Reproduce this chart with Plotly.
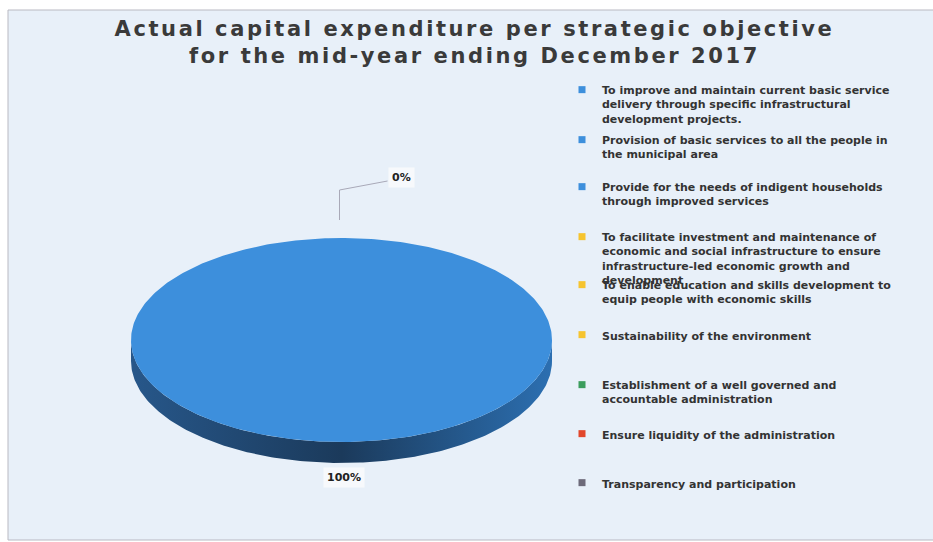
import numpy as np
import plotly.graph_objects as go

# Strategic objectives (legend text, wrapped as printed)
objectives = [
    "To improve and maintain current basic service<br>delivery through specific infrastructural<br>development projects.",
    "Provision of basic services to all the people in<br>the municipal area",
    "Provide for the needs of indigent households<br>through improved services",
    "To facilitate investment and maintenance of<br>economic and social infrastructure to ensure<br>infrastructure-led economic growth and<br>development",
    "To enable education and skills development to<br>equip people with economic skills",
    "Sustainability of the environment",
    "Establishment of a well governed and<br>accountable administration",
    "Ensure liquidity of the administration",
    "Transparency and participation",
]
# Share of actual capital expenditure (%)
shares = [100, 0, 0, 0, 0, 0, 0, 0, 0]
colors = ["#3d8fdc", "#3d8fdc", "#3d8fdc",
          "#f6c42f", "#f6c42f", "#f6c42f",
          "#3b9d5d", "#e2472b", "#6d6a7a"]
title_lines = ["Actual capital expenditure per strategic objective",
               "for the mid-year ending December 2017"]

W, H = 933, 542
CX, CY, RX, RY, DEPTH = 341.5, 340.0, 210.5, 102.0, 21.0


def ell(theta_deg, dy=0.0):
    t = np.radians(theta_deg)
    return CX + RX * np.sin(t), CY - RY * np.cos(t) + dy


fig = go.Figure()

total = float(sum(shares))
start = 0.0
spans = []
for s in shares:
    sweep = 360.0 * s / total
    spans.append((start, start + sweep))
    start += sweep

# side walls (front half of the disc) first, then the top faces
for (a0, a1), s, c in zip(spans, shares, colors):
    lo, hi = max(a0, 90.0), min(a1, 270.0)
    if s <= 0 or hi <= lo:
        continue
    th = np.linspace(lo, hi, 200)
    xt, yt = ell(th)
    xb, yb = ell(th[::-1], DEPTH)
    fig.add_trace(go.Scatter(
        x=np.concatenate([xt, xb]), y=np.concatenate([yt, yb]),
        mode="lines", line=dict(width=0), fill="toself",
        fillgradient=dict(type="horizontal",
                          colorscale=[[0, "#27578a"], [0.5, "#1b3a5b"], [1, "#2c6fb1"]]),
        showlegend=False, hoverinfo="skip"))

for (a0, a1), s, c in zip(spans, shares, colors):
    if s <= 0:
        continue
    th = np.linspace(a0, a1, 400)
    xt, yt = ell(th)
    fig.add_trace(go.Scatter(
        x=np.concatenate([[CX], xt, [CX]]), y=np.concatenate([[CY], yt, [CY]]),
        mode="lines", line=dict(width=0), fill="toself", fillcolor=c,
        showlegend=False, hoverinfo="skip"))

# percentage labels
label_font = dict(family="DejaVu Sans", size=11, color="#222222", weight="bold")
zero_done = False
for (a0, a1), s in zip(spans, shares):
    pct = 100.0 * s / total
    mid = (a0 + a1) / 2.0
    if s > 0:
        x, y = ell(mid, DEPTH)
        fig.add_annotation(x=x + 2, y=y + 14, text=f"{pct:.0f}%", showarrow=False,
                           font=label_font, bgcolor="#f7f9fc", borderpad=3)
    elif not zero_done:
        zero_done = True
        ax, ay = ell(a0)
        lx, ly = ax + 60, ay - 61
        fig.add_trace(go.Scatter(
            x=[ax - 2, ax - 2, lx - 14], y=[ay - 18, ay - 48, ly + 4],
            mode="lines", line=dict(color="#a9a9b8", width=1),
            showlegend=False, hoverinfo="skip"))
        fig.add_annotation(x=lx, y=ly, text=f"{pct:.0f}%", showarrow=False,
                           font=label_font, bgcolor="#f7f9fc", borderpad=3)

# one legend block per objective so each entry sits at its own row
legend_rows = [90, 140, 187, 237, 285, 335, 385, 434, 483]
layout_legends = {}
for i, (name, c, row) in enumerate(zip(objectives, colors, legend_rows)):
    key = "legend" if i == 0 else f"legend{i + 1}"
    fig.add_trace(go.Scatter(
        x=[None], y=[None], mode="markers", name=name,
        marker=dict(symbol="square", size=7, color=c),
        legend=key, hoverinfo="skip"))
    layout_legends[key] = dict(
        x=562 / W, y=1 - (row - 14) / H, xanchor="left", yanchor="top",
        bgcolor="rgba(0,0,0,0)", borderwidth=0, valign="top",
        itemwidth=30, itemclick=False, itemdoubleclick=False,
        font=dict(family="DejaVu Sans", size=11, color="#333333", weight="bold"))

title_html = "<br>".join(f'<span style="letter-spacing:2.6px">{t}</span>' for t in title_lines)

fig.update_layout(
    width=W, height=H,
    margin=dict(l=0, r=0, t=0, b=0),
    paper_bgcolor="#ffffff", plot_bgcolor="rgba(0,0,0,0)",
    title=dict(
        text=title_html,
        x=474.5 / W, xanchor="center", y=1 - 36 / H, yanchor="middle",
        font=dict(family="DejaVu Sans", size=21, color="#3a3a3a", weight="bold")),
    xaxis=dict(range=[0, W], visible=False, fixedrange=True),
    yaxis=dict(range=[H, 0], visible=False, fixedrange=True),
    shapes=[dict(type="rect", xref="x", yref="y", x0=8, y0=10, x1=W + 5, y1=540,
                 fillcolor="#e8f0f9", line=dict(color="#b9b9c2", width=1), layer="below")],
    showlegend=True,
    **layout_legends,
)

fig.write_html("out.html")
